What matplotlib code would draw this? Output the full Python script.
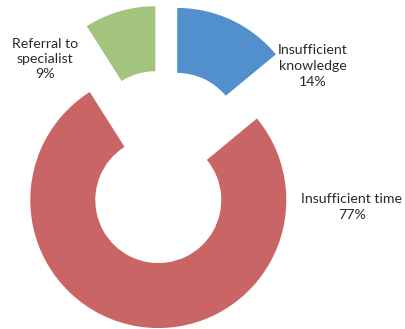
import matplotlib
matplotlib.use("Agg")
import matplotlib.pyplot as plt

categories = ["Insufficient knowledge", "Insufficient time", "Referral to specialist"]
label_texts = ["Insufficient\nknowledge", "Insufficient time", "Referral to\nspecialist"]
values = [14, 77, 9]
colors = ["#5190CD", "#C96565", "#A2C47D"]

W, H = 406, 329
fig = plt.figure(figsize=(W / 100, H / 100), dpi=100)
ax = fig.add_axes([0, 0, 1, 1])

cx, cy = 164, H - 164
R = 128
ax.pie(values, colors=colors, startangle=90, counterclock=False,
       center=(cx, cy), radius=R, explode=[31, 36.5, 31],
       wedgeprops=dict(width=65, linewidth=0), frame=True)
ax.set_xlim(0, W)
ax.set_ylim(0, H)
ax.set_aspect("equal")
ax.axis("off")

label_pos = [(313, H - 66), (352, H - 207), (45, H - 59)]
for txt, v, (x, y) in zip(label_texts, values, label_pos):
    ax.text(x, y, f"{txt}\n{v}%", ha="center", va="center", fontsize=10.2,
            family="Lato", color="#2a2a2a", linespacing=1.35)

fig.savefig("out.png", dpi=100)
